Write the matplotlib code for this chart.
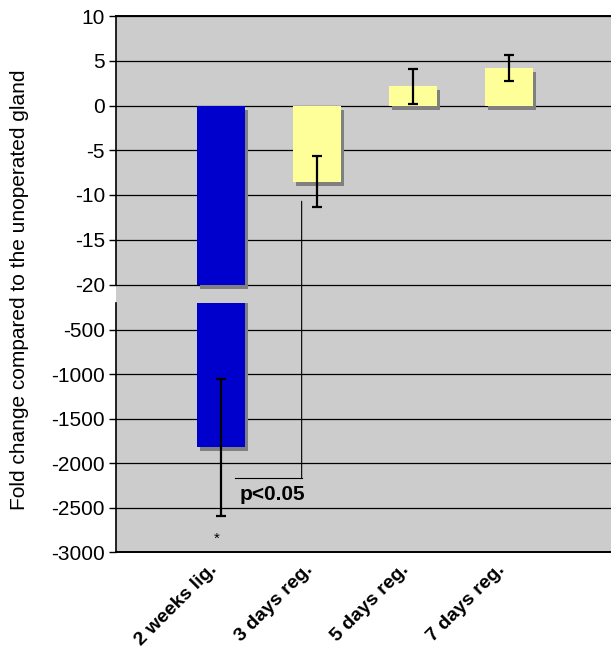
import matplotlib
matplotlib.use('Agg')
import matplotlib.pyplot as plt
import matplotlib.transforms as mtransforms
from matplotlib.patches import ConnectionPatch
import numpy as np

# ---------------- data ----------------
categories = ['2 weeks lig.', '3 days reg.', '5 days reg.', '7 days reg.']
values = [-1825, -8.5, 2.15, 4.15]
errors = [767, 2.85, 1.93, 1.44]
bar_colors = ['#0000CC', '#FFFF99', '#FFFF99', '#FFFF99']
top_ticks = [10, 5, 0, -5, -10, -15, -20]
bottom_ticks = [-500, -1000, -1500, -2000, -2500, -3000]
top_range = (-20, 10)
bottom_range = (-3000, -202)
ylabel = 'Fold change compared to the unoperated gland'
sig_text = 'p<0.05'
star_text = '*'
bracket_top = -10.7
bracket_bottom = -2165
bracket_x = (0.146, 0.84)
star_pos = (-0.04, -2850)
sig_pos = (0.19, -2350)

plt.rcParams['font.family'] = ['Liberation Sans', 'DejaVu Sans']
plt.rcParams['axes.unicode_minus'] = False

W, H = 611, 654
fig = plt.figure(figsize=(W / 100, H / 100), dpi=100)
BG = '#CCCCCC'

left_px, right_px = 116, 611
y_top_px, y_m20_px, y_brk_px, y_bot_px = 16, 284.5, 303, 552
ax_top = fig.add_axes([left_px / W, 1 - y_brk_px / H, (right_px - left_px) / W,
                       (y_brk_px - y_top_px) / H])
ax_bot = fig.add_axes([left_px / W, 1 - y_bot_px / H, (right_px - left_px) / W,
                       (y_bot_px - y_brk_px) / H])

x = np.arange(len(categories))
xlim = (-1.094, 4.0625)
bar_w = 0.5

# top panel shows bars cut at the break value
top_vals = np.maximum(np.array(values, dtype=float), top_range[0])
units_per_px = (top_range[1] - top_range[0]) / (y_m20_px - y_top_px)
top_ylim = (top_range[0] - (y_brk_px - y_m20_px) * units_per_px, top_range[1])

for ax, vals in ((ax_top, top_vals), (ax_bot, np.array(values, dtype=float))):
    ax.set_facecolor(BG)
    ax.set_xlim(*xlim)
    shadow_tr = mtransforms.offset_copy(ax.transData, fig=fig, x=3, y=-4, units='dots')
    ax.bar(x, vals, width=bar_w, color='#808080', transform=shadow_tr, zorder=2, linewidth=0)
    ax.bar(x, vals, width=bar_w, color=bar_colors, zorder=3, linewidth=0)
    ax.errorbar(x, values, yerr=errors, fmt='none', ecolor='black', elinewidth=1.6,
                capsize=3.8, capthick=1.6, zorder=4)
    ax.yaxis.grid(True, color='black', linewidth=0.9)
    ax.set_axisbelow(True)
    ax.spines['right'].set_visible(False)
    ax.spines['left'].set_linewidth(1.2)
    ax.tick_params(axis='y', labelsize=15, length=5, width=1, pad=3)

ax_top.set_ylim(*top_ylim)
ax_top.set_yticks(top_ticks)
ax_top.spines['bottom'].set_visible(False)
ax_top.spines['left'].set_bounds(top_range[0], top_range[1])
ax_top.spines['top'].set_linewidth(1.4)
ax_top.tick_params(axis='x', bottom=False, labelbottom=False)

ax_bot.set_ylim(*bottom_range)
ax_bot.set_yticks(bottom_ticks)
ax_bot.spines['top'].set_visible(False)
ax_bot.spines['bottom'].set_linewidth(1.4)
ax_bot.set_xticks(x)
ax_bot.set_xticklabels(categories, rotation=45, ha='right', rotation_mode='anchor',
                       fontsize=14, fontweight='bold')
ax_bot.tick_params(axis='x', length=0, pad=8)
shift = mtransforms.ScaledTranslation(-13 / 100, 2 / 100, fig.dpi_scale_trans)
for lab in ax_bot.get_xticklabels():
    lab.set_transform(lab.get_transform() + shift)

# bracket for significance
con = ConnectionPatch(xyA=(bracket_x[1], bracket_top), coordsA=ax_top.transData,
                      xyB=(bracket_x[1], bracket_bottom), coordsB=ax_bot.transData,
                      color='black', linewidth=0.8, zorder=5)
fig.add_artist(con)
ax_bot.plot([bracket_x[0], bracket_x[1]], [bracket_bottom, bracket_bottom], color='black',
            linewidth=0.8, zorder=5)
ax_bot.text(sig_pos[0], sig_pos[1], sig_text, fontsize=15, fontweight='bold', ha='left', va='center')
ax_bot.text(star_pos[0], star_pos[1], star_text, fontsize=11, ha='center', va='center')

fig.text(20 / W, 1 - 290 / H, ylabel, rotation=90, fontsize=15, ha='center', va='center')

fig.savefig('out.png', dpi=100)
